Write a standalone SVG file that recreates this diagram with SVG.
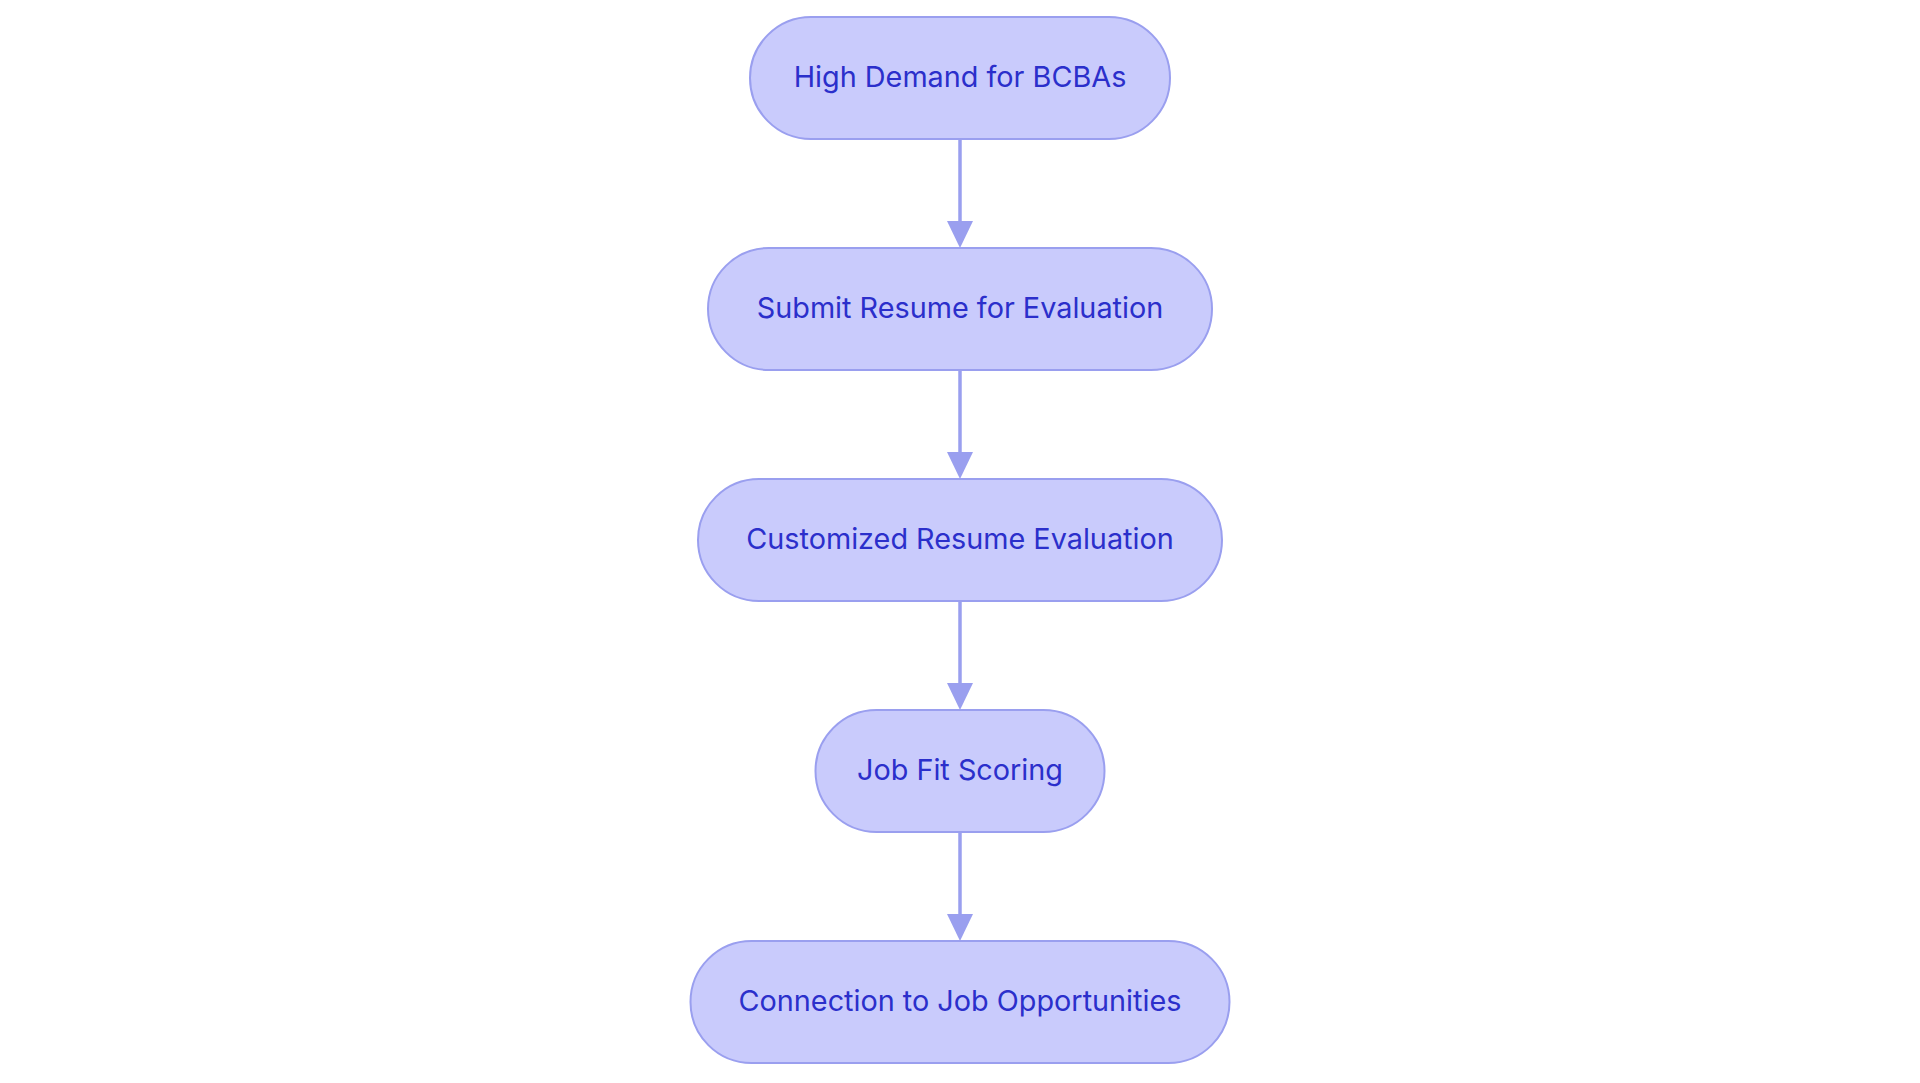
<svg xmlns="http://www.w3.org/2000/svg" width="1920" height="1083" viewBox="0 0 1920 1083">
<style>
.node rect{fill:#C9CBFC;stroke:#9A9FEF;stroke-width:2}
.node text{font-family:Inter,"Liberation Sans",sans-serif;font-size:28.8px;font-weight:400;fill:#2B2FCB;text-anchor:middle}
.edge{stroke:#9A9FEF;stroke-width:3.5;fill:none}
.head{fill:#9A9FEF}
</style>
<rect width="1920" height="1083" fill="#ffffff"/>
<g id="connectors">
<line class="edge" x1="960" y1="139" x2="960" y2="224"/>
<polygon class="head" points="947,221 973,221 960,248"/>
<line class="edge" x1="960" y1="370" x2="960" y2="455"/>
<polygon class="head" points="947,452 973,452 960,479"/>
<line class="edge" x1="960" y1="601" x2="960" y2="686"/>
<polygon class="head" points="947,683 973,683 960,710"/>
<line class="edge" x1="960" y1="832" x2="960" y2="917"/>
<polygon class="head" points="947,914 973,914 960,941"/>
</g>
<g id="n1" class="node"><rect x="750" y="17" width="420" height="122" rx="61"/><text x="960" y="86.5">High Demand for BCBAs</text></g>
<g id="n2" class="node"><rect x="708" y="248" width="504" height="122" rx="61"/><text x="960" y="317.5">Submit Resume for Evaluation</text></g>
<g id="n3" class="node"><rect x="698" y="479" width="524" height="122" rx="61"/><text x="960" y="548.5">Customized Resume Evaluation</text></g>
<g id="n4" class="node"><rect x="815.5" y="710" width="289" height="122" rx="61"/><text x="960" y="779.5">Job Fit Scoring</text></g>
<g id="n5" class="node"><rect x="690.5" y="941" width="539" height="122" rx="61"/><text x="960" y="1010.5">Connection to Job Opportunities</text></g>
</svg>
